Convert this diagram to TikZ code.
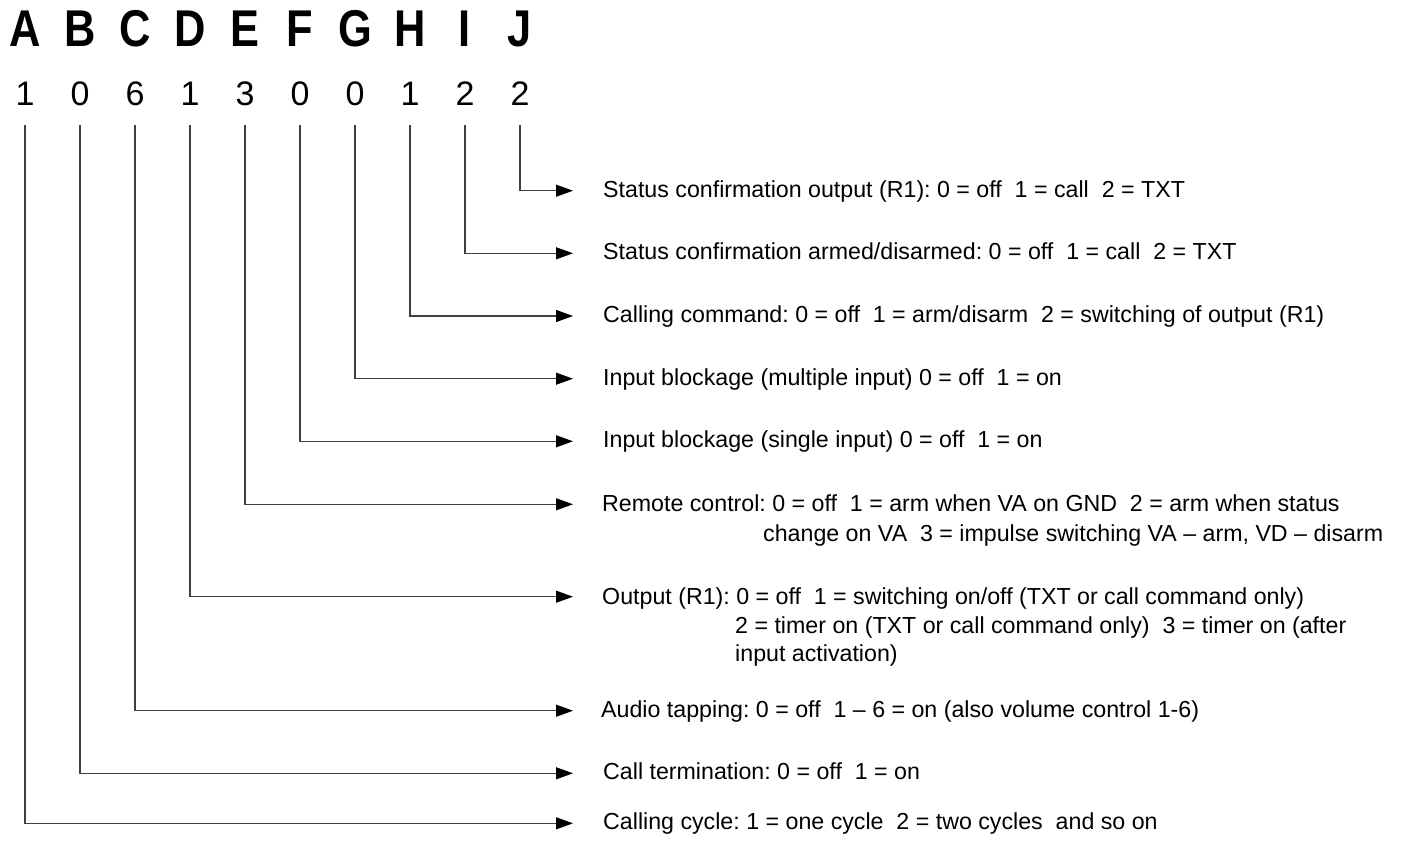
\documentclass[tikz,border=0pt]{standalone}
\usepackage{fontspec}
\setmainfont{Liberation Sans}
\newfontfamily\letterfont{Liberation Sans Bold}[FakeStretch=0.84]
\usetikzlibrary{arrows.meta}
\frenchspacing
\tikzset{
  letter/.style={font=\letterfont\fontsize{51.7}{52}\selectfont, anchor=base, inner sep=0pt},
  digit/.style={font=\fontsize{34}{34}\selectfont, anchor=base, inner sep=0pt},
  desc/.style={font=\frenchspacing\fontsize{23.2}{27}\selectfont, anchor=base west, inner sep=0pt},
  conn/.style={draw=black!75, line width=1.1pt, -{Triangle[length=17pt,width=12pt,color=black]}}
}
\begin{document}
\begin{tikzpicture}[x=1pt,y=-1pt]
\useasboundingbox (0,0) rectangle (1406,845);
% letters and digits
\foreach \L/\x/\d in {A/25/1,B/80/0,C/135/6,D/190/1,E/245/3,F/300/0,G/355/0,H/410/1,I/465/2,J/520/2}{
  \node[letter] (l\L) at (\x,47) {\L};
  \node[digit] (d\L) at (\x,106) {\d};
}
% descriptions (baselines)
\node[desc] (tJ) at (603,197.2) {Status confirmation output (R1): 0 = off~~1 = call~~2 = TXT};
\node[desc] (tI) at (603,259.8) {Status confirmation armed/disarmed: 0 = off~~1 = call~~2 = TXT};
\node[desc] (tH) at (603,322.5) {Calling command: 0 = off~~1 = arm/disarm~~2 = switching of output (R1)};
\node[desc] (tG) at (603,385.2) {Input blockage (multiple input) 0 = off~~1 = on};
\node[desc] (tF) at (603,447.8) {Input blockage (single input) 0 = off~~1 = on};
\node[desc] (tE) at (602,511.5) {Remote control: 0 = off~~1 = arm when VA on GND~~2 = arm when status};
\node[desc] (tE2) at (763,541) {change on VA~~3 = impulse switching VA – arm, VD – disarm};
\node[desc] (tD) at (602,604) {Output (R1): 0 = off~~1 = switching on/off (TXT or call command only)};
\node[desc] (tD2) at (735,633) {2 = timer on (TXT or call command only)~~3 = timer on (after};
\node[desc] (tD3) at (735,661) {input activation)};
\node[desc] (tC) at (601,717.2) {Audio tapping: 0 = off~~1 – 6 = on (also volume control 1-6)};
\node[desc] (tB) at (603,779.8) {Call termination: 0 = off~~1 = on};
\node[desc] (tA) at (603,829.8) {Calling cycle: 1 = one cycle~~2 = two cycles~~and so on};
% connectors
\foreach \L/\o/\s in {A/30/6.5,B/30/6.5,C/28/6.5,D/29/7.3,E/29/7.2,F/30/6.5,G/30/6.5,H/30/6.5,I/30/6.5,J/30/6.5}{
  \draw[conn] ([yshift=-19pt]d\L.base) |- ([xshift=-\o pt,yshift=\s pt]t\L.base west);
}
\end{tikzpicture}
\end{document}
